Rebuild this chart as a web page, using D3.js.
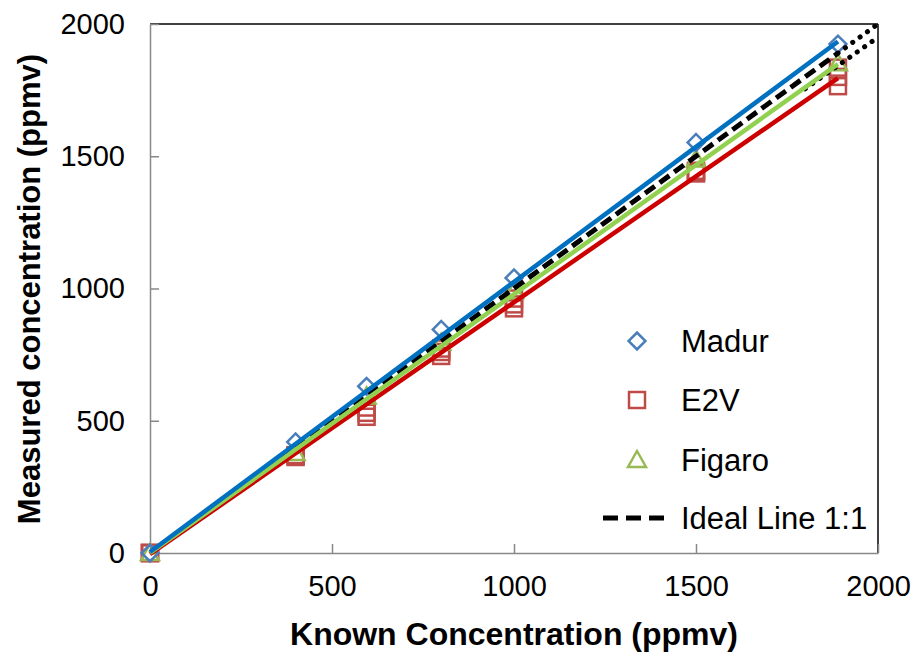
<!DOCTYPE html>
<html>
<head>
<meta charset="utf-8">
<script src="https://cdn.jsdelivr.net/npm/d3@7"></script>
<style>
body { margin: 0; background: #fff; }
text { font-family: "Liberation Sans", Arial, sans-serif; }
</style>
</head>
<body>
<div id="chart"></div>
<script>
var width = 917,
    height = 656;

// known concentrations (ppmv)
var known = [0, 400, 595, 800, 1000, 1500, 1890];
var madur = [0, 420, 630, 845, 1040, 1552, 1924];
var e2v_a = [0, 363, 550, 773, 962, 1440, 1835];
var e2v_b = [0, 368, 515, 745, 925, 1445, 1800];
var e2v_c = [0, 370, 530, 760, 940, 1435, 1765];
var figaro = [0, 378, 592, 795, 990, 1488, 1852];

// fitted lines: [slope, intercept]
var madurFit = [1.021, 4];
var e2vFit = [0.952, -4];
var figaroFit = [0.978, 0];

var xTicks = [0, 500, 1000, 1500, 2000];
var yTicks = [0, 500, 1000, 1500, 2000];

var x = d3.scaleLinear().domain([0, 2000]).range([150, 878]);
var y = d3.scaleLinear().domain([0, 2000]).range([553, 24]);

var svg = d3.select("#chart")
    .append("svg")
    .attr("width", width)
    .attr("height", height);

// frame: top and right black
svg.append("line")
    .attr("x1", x(0)).attr("x2", x(2000))
    .attr("y1", y(2000)).attr("y2", y(2000))
    .style("stroke", "#000").style("stroke-width", 1.5);
svg.append("line")
    .attr("x1", x(2000)).attr("x2", x(2000))
    .attr("y1", y(2000)).attr("y2", y(0))
    .style("stroke", "#000").style("stroke-width", 1.5);

// axes
var xAxis = svg.append("g")
    .attr("transform", "translate(0," + y(0) + ")")
    .call(d3.axisBottom(x).tickValues(xTicks).tickFormat(d3.format("d"))
        .tickSizeInner(-9).tickSizeOuter(0).tickPadding(22));
var yAxis = svg.append("g")
    .attr("transform", "translate(" + x(0) + ",0)")
    .call(d3.axisLeft(y).tickValues(yTicks).tickFormat(d3.format("d"))
        .tickSizeInner(-9).tickSizeOuter(0).tickPadding(25));

[xAxis, yAxis].forEach(function(a) {
    a.select(".domain").style("stroke", "#888").style("stroke-width", 1.5);
    a.selectAll(".tick line").style("stroke", "#888").style("stroke-width", 1.5);
    a.selectAll(".tick text")
        .style("font-size", "29px")
        .style("fill", "#000")
        .style("font-family", "'Liberation Sans', Arial, sans-serif");
});
xAxis.selectAll(".tick").filter(function(d) { return d == 0; }).select("line").remove();
yAxis.selectAll(".tick").filter(function(d) { return d == 0; }).select("line").remove();

// axis titles
svg.append("text")
    .attr("x", 514)
    .attr("y", 645)
    .attr("text-anchor", "middle")
    .style("font-size", "32px")
    .style("font-weight", "bold")
    .text("Known Concentration (ppmv)");

svg.append("text")
    .attr("transform", "translate(40,289) rotate(-90)")
    .attr("text-anchor", "middle")
    .style("font-size", "31px")
    .style("font-weight", "bold")
    .text("Measured concentration (ppmv)");

var sym = 16;

function diamond(g, cx, cy, color) {
    g.append("path")
        .attr("d", d3.symbol().type(d3.symbolSquare).size(sym * sym * 0.55)())
        .attr("transform", "translate(" + cx + "," + cy + ") rotate(45)")
        .style("fill", "none")
        .style("stroke", color)
        .style("stroke-width", 2.5);
}
function square(g, cx, cy, color) {
    g.append("rect")
        .attr("x", cx - sym / 2).attr("y", cy - sym / 2)
        .attr("width", sym).attr("height", sym)
        .style("fill", "none")
        .style("stroke", color)
        .style("stroke-width", 2.5);
}
function triangle(g, cx, cy, color) {
    g.append("path")
        .attr("d", "M" + cx + "," + (cy - 9) + "L" + (cx + 9) + "," + (cy + 7) + "L" + (cx - 9) + "," + (cy + 7) + "Z")
        .style("fill", "none")
        .style("stroke", color)
        .style("stroke-width", 2.5);
}

var blueM = "#4a7ebb", redM = "#be4b48", greenM = "#98b954";

var marks = svg.append("g");
known.forEach(function(k, i) {
    square(marks, x(k), y(e2v_a[i]), redM);
    square(marks, x(k), y(e2v_b[i]), redM);
    square(marks, x(k), y(e2v_c[i]), redM);
    triangle(marks, x(k), y(figaro[i]), greenM);
    diamond(marks, x(k), y(madur[i]), blueM);
});

// ideal line and its dotted extension
svg.append("line")
    .attr("x1", x(0)).attr("y1", y(0))
    .attr("x2", x(1890)).attr("y2", y(1890))
    .style("stroke", "#000")
    .style("stroke-width", 5)
    .style("stroke-dasharray", "12,6");
svg.append("line")
    .attr("x1", x(1890)).attr("y1", y(1890))
    .attr("x2", x(1995)).attr("y2", y(1995))
    .style("stroke", "#000")
    .style("stroke-width", 5)
    .style("stroke-linecap", "round")
    .style("stroke-dasharray", "0.1,9");
svg.append("line")
    .attr("x1", x(1800)).attr("y1", y(1800 * 0.975))
    .attr("x2", x(1995)).attr("y2", y(1995 * 0.975))
    .style("stroke", "#000")
    .style("stroke-width", 5)
    .style("stroke-linecap", "round")
    .style("stroke-dasharray", "0.1,9");

// fitted lines
var fits = [[e2vFit, "#cc0000"], [figaroFit, "#92d050"], [madurFit, "#0070c0"]];
fits.forEach(function(f) {
    svg.append("line")
        .attr("x1", x(0)).attr("y1", y(f[0][1]))
        .attr("x2", x(1890)).attr("y2", y(f[0][0] * 1890 + f[0][1]))
        .style("stroke", f[1])
        .style("stroke-width", 4.5);
});

// legend
var leg = svg.append("g");
var legY = [341, 400, 460, 518];
diamond(leg, 637, legY[0], blueM);
square(leg, 637, legY[1], redM);
triangle(leg, 637, legY[2], greenM);
leg.append("line")
    .attr("x1", 603).attr("x2", 666)
    .attr("y1", legY[3]).attr("y2", legY[3])
    .style("stroke", "#000")
    .style("stroke-width", 5)
    .style("stroke-dasharray", "15,8");
var legNames = ["Madur", "E2V", "Figaro", "Ideal Line 1:1"];
legNames.forEach(function(n, i) {
    leg.append("text")
        .attr("x", 681)
        .attr("y", legY[i] + 11)
        .style("font-size", "31px")
        .text(n);
});
</script>
</body>
</html>
